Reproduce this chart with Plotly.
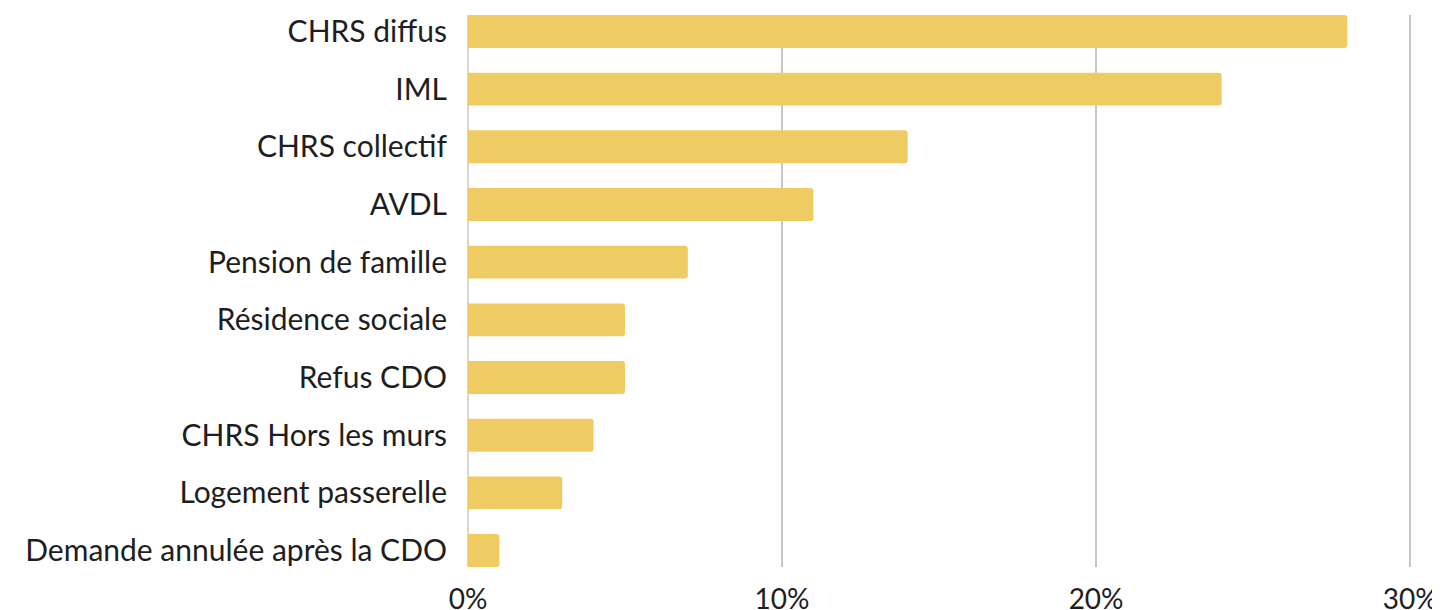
import plotly.graph_objects as go

categories = [
    "CHRS diffus",
    "IML",
    "CHRS collectif",
    "AVDL",
    "Pension de famille",
    "Résidence sociale",
    "Refus CDO",
    "CHRS Hors les murs",
    "Logement passerelle",
    "Demande annulée après la CDO",
]
shares = [28, 24, 14, 11, 7, 5, 5, 4, 3, 1]
x_ticks = [0, 10, 20, 30]
x_tick_labels = ["0%", "10%", "20%", "30%"]

BAR_COLOR = "#EFCB63"
GRID_COLOR = "#C6C6C6"
TEXT_COLOR = "#1E1E1E"

fig = go.Figure()
fig.add_trace(go.Bar(
    x=shares,
    y=categories,
    orientation="h",
    marker=dict(color=BAR_COLOR, cornerradius=3, line=dict(width=0)),
    hovertemplate="%{y}: %{x}%<extra></extra>",
))

# page body has an 8px margin, so the plot area is offset accordingly
fig.update_layout(
    width=1440,
    height=610,
    paper_bgcolor="white",
    plot_bgcolor="white",
    font=dict(family="Lato, 'Open Sans', sans-serif", size=30, color=TEXT_COLOR),
    margin=dict(l=460, r=36, t=7, b=51, autoexpand=False),
    bargap=0.43,
    showlegend=False,
    xaxis=dict(
        range=[0, 30.06],  # a hair past 30 so the 30% gridline is drawn
        tickvals=x_ticks,
        ticktext=x_tick_labels,
        showgrid=True,
        gridcolor=GRID_COLOR,
        gridwidth=2,
        zeroline=True,
        zerolinecolor="#D6D6D6",
        zerolinewidth=2,
        showline=False,
        ticks="",
        ticklabelstandoff=13,
        automargin=False,
        tickfont=dict(size=28),
    ),
    yaxis=dict(
        categoryorder="array",
        categoryarray=categories,
        autorange=False,
        range=[len(categories) - 1 + 0.285, -0.285],
        showgrid=False,
        zeroline=False,
        showline=False,
        ticks="",
        ticklabelstandoff=20,
        automargin=False,
        tickfont=dict(size=30),
    ),
)

fig.write_html("out.html")
